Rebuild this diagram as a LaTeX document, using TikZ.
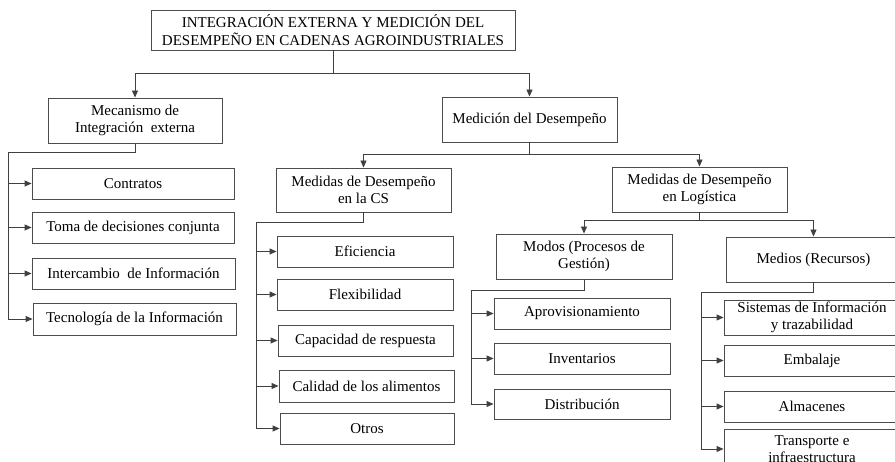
\documentclass[tikz,border=0pt]{standalone}
\usepackage{fontspec}
\setmainfont{Liberation Serif}
\usetikzlibrary{arrows.meta}
\begin{document}
\begin{tikzpicture}[x=1pt,y=-1pt,
  bx/.style={draw=black!70, line width=0.9pt, rectangle, inner sep=0pt, align=center,
    font=\fontsize{15}{17.5}\selectfont},
  arr/.style={draw=black!75, line width=0.9pt, -{Triangle[length=7pt,width=6pt]}}]
\clip (0,0) rectangle (895,462);
\fill[white] (0,0) rectangle (895,462);
% nodes
\node[bx, minimum width=364, minimum height=40] (top) at (333,30) {INTEGRACIÓN EXTERNA Y MEDICIÓN DEL\\DESEMPEÑO EN CADENAS AGROINDUSTRIALES};
\node[bx, minimum width=174, minimum height=45] (mec) at (135,120.5) {Mecanismo de\\Integración~ externa};
\node[bx, minimum width=175, minimum height=45] (med) at (529.5,119.5) {Medición del Desempeño};
\node[bx, minimum width=202, minimum height=31] (contr) at (133,183.5) {Contratos};
\node[bx, minimum width=202, minimum height=31] (toma) at (133,227.5) {Toma de decisiones conjunta};
\node[bx, minimum width=203, minimum height=31] (inter) at (133.5,273.5) {Intercambio~ de Información};
\node[bx, minimum width=203, minimum height=32] (tec) at (134.5,319) {Tecnología de la Información};
\node[bx, minimum width=175, minimum height=44] (cs) at (363.5,190) {Medidas de Desempeño\\en la CS};
\node[bx, minimum width=175, minimum height=45] (log) at (699.5,189.5) {Medidas de Desempeño\\en Logística};
\node[bx, minimum width=176, minimum height=31] (efi) at (365,251.5) {Eficiencia};
\node[bx, minimum width=176, minimum height=31] (flex) at (365,294.5) {Flexibilidad};
\node[bx, minimum width=175, minimum height=31] (cap) at (365.5,340.5) {Capacidad de respuesta};
\node[bx, minimum width=175, minimum height=32] (cal) at (366.5,386) {Calidad de los alimentos};
\node[bx, minimum width=174, minimum height=31] (otros) at (367,428.5) {Otros};
\node[bx, minimum width=176, minimum height=45] (modos) at (584,256.5) {Modos (Procesos de\\Gestión)};
\node[bx, minimum width=175, minimum height=45] (medios) at (813.5,259.5) {Medios (Recursos)};
\node[bx, minimum width=176, minimum height=31] (apro) at (582,313.5) {Aprovisionamiento};
\node[bx, minimum width=176, minimum height=31] (inv) at (582,358.5) {Inventarios};
\node[bx, minimum width=176, minimum height=30] (dist) at (582,404) {Distribución};
\node[bx, minimum width=176, minimum height=35] (sis) at (812,317.5) {Sistemas de Información\\y trazabilidad};
\node[bx, minimum width=176, minimum height=31] (emb) at (812,360.5) {Embalaje};
\node[bx, minimum width=176, minimum height=31] (alm) at (812,406.5) {Almacenes};
\node[bx, minimum width=176, minimum height=40] (trans) at (812,449) {Transporte e\\infraestructura};
% bus coordinates
\coordinate (mecbus) at (8,152);
\coordinate (csbus) at (256,222);
\coordinate (modbus) at (471,290);
\coordinate (medbus) at (701,292);
% connectors
\draw[arr] (top.south) -- ++(0,23) -| (mec.north);
\draw[arr] (top.south) -- ++(0,23) -| (med.north);
\foreach \c in {contr,toma,inter,tec}
  \draw[arr] (mec.south) |- (mecbus) |- (\c.west);
\draw[arr] (med.south) -- ++(0,12) -| (cs.north);
\draw[arr] (med.south) -- ++(0,12) -| (log.north);
\foreach \c in {efi,flex,cap,cal,otros}
  \draw[arr] (cs.south) |- (csbus) |- (\c.west);
\draw[arr] (log.south) -- ++(0,8) -| (modos.north);
\draw[arr] (log.south) -- ++(0,8) -| (medios.north);
\foreach \c in {apro,inv,dist}
  \draw[arr] (modos.south) |- (modbus) |- (\c.west);
\foreach \c in {sis,emb,alm,trans}
  \draw[arr] (medios.south) |- (medbus) |- (\c.west);
\end{tikzpicture}
\end{document}
